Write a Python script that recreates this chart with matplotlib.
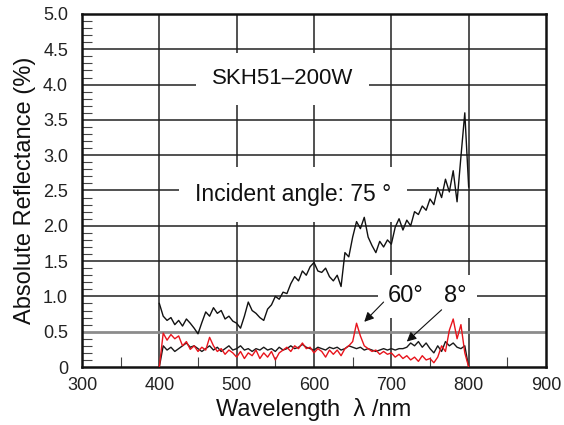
import matplotlib
matplotlib.use("Agg")
import matplotlib.pyplot as plt
from matplotlib.ticker import MultipleLocator

plt.rcParams['font.family'] = ['Liberation Sans', 'DejaVu Sans']

# ---------------- data ----------------
wavelength = [400, 405, 410, 415, 420, 425, 430, 435, 440, 445,
              450, 455, 460, 465, 470, 475, 480, 485, 490, 495,
              500, 505, 510, 515, 520, 525, 530, 535, 540, 545,
              550, 555, 560, 565, 570, 575, 580, 585, 590, 595,
              600, 605, 610, 615, 620, 625, 630, 635, 640, 645,
              650, 655, 660, 665, 670, 675, 680, 685, 690, 695,
              700, 705, 710, 715, 720, 725, 730, 735, 740, 745,
              750, 755, 760, 765, 770, 775, 780, 785, 790, 795, 800]

refl_75 = [0.90, 0.72, 0.66, 0.70, 0.60, 0.66, 0.58, 0.68, 0.62, 0.55,
           0.47, 0.63, 0.78, 0.72, 0.84, 0.76, 0.80, 0.68, 0.72, 0.65,
           0.62, 0.55, 0.72, 0.92, 0.80, 0.76, 0.70, 0.66, 0.82, 0.88,
           1.00, 0.96, 1.06, 1.04, 1.18, 1.28, 1.22, 1.36, 1.30, 1.42,
           1.48, 1.36, 1.34, 1.40, 1.28, 1.22, 1.30, 1.14, 1.62, 1.56,
           1.84, 2.06, 1.96, 2.12, 1.84, 1.72, 1.62, 1.78, 1.70, 1.80,
           1.74, 1.98, 2.10, 1.94, 2.08, 2.00, 2.20, 2.16, 2.28, 2.22,
           2.38, 2.30, 2.54, 2.40, 2.66, 2.48, 2.78, 2.34, 2.98, 3.60, 2.55]

refl_60 = [0.00, 0.48, 0.38, 0.46, 0.40, 0.44, 0.30, 0.36, 0.25, 0.30,
           0.22, 0.28, 0.24, 0.42, 0.30, 0.22, 0.26, 0.18, 0.24, 0.20,
           0.14, 0.22, 0.12, 0.20, 0.16, 0.24, 0.12, 0.20, 0.14, 0.22,
           0.10, 0.20, 0.24, 0.28, 0.22, 0.30, 0.26, 0.34, 0.26, 0.28,
           0.20, 0.26, 0.22, 0.14, 0.24, 0.18, 0.24, 0.16, 0.26, 0.30,
           0.36, 0.62, 0.44, 0.30, 0.26, 0.22, 0.24, 0.18, 0.22, 0.18,
           0.20, 0.14, 0.18, 0.12, 0.16, 0.10, 0.14, 0.08, 0.16, 0.10,
           0.12, 0.06, 0.14, 0.30, 0.22, 0.52, 0.68, 0.40, 0.60, 0.20, 0.00]

refl_8 = [0.00, 0.30, 0.24, 0.28, 0.22, 0.26, 0.30, 0.34, 0.28, 0.30,
          0.26, 0.22, 0.26, 0.30, 0.24, 0.28, 0.22, 0.26, 0.30, 0.24,
          0.26, 0.30, 0.24, 0.26, 0.22, 0.26, 0.24, 0.28, 0.24, 0.26,
          0.22, 0.28, 0.24, 0.26, 0.30, 0.26, 0.28, 0.32, 0.28, 0.26,
          0.24, 0.28, 0.26, 0.24, 0.28, 0.26, 0.28, 0.24, 0.26, 0.30,
          0.28, 0.26, 0.28, 0.24, 0.26, 0.24, 0.22, 0.24, 0.26, 0.24,
          0.26, 0.24, 0.26, 0.26, 0.28, 0.34, 0.30, 0.36, 0.28, 0.34,
          0.26, 0.20, 0.30, 0.22, 0.36, 0.30, 0.34, 0.28, 0.26, 0.30, 0.00]

x_ticks = [300, 400, 500, 600, 700, 800, 900]
y_ticks = [0, 0.5, 1.0, 1.5, 2.0, 2.5, 3.0, 3.5, 4.0, 4.5, 5.0]
y_tick_labels = ['0', '0.5', '1.0', '1.5', '2.0', '2.5', '3.0', '3.5', '4.0', '4.5', '5.0']

# ---------------- figure ----------------
fig = plt.figure(figsize=(5.64, 4.25), dpi=100)
ax = fig.add_axes([82 / 564, 1 - 367 / 425, 464 / 564, 353 / 425])

ax.set_xlim(300, 900)
ax.set_ylim(0, 5.0)
ax.set_xticks(x_ticks)
ax.set_yticks(y_ticks)
ax.set_yticklabels(y_tick_labels)
ax.xaxis.set_minor_locator(MultipleLocator(50))
ax.yaxis.set_minor_locator(MultipleLocator(0.1))

ax.tick_params(axis='both', which='major', direction='in', length=0,
               labelsize=13, colors='#222222')
ax.tick_params(axis='y', which='major', pad=10)
ax.tick_params(axis='x', which='major', pad=7)
ax.tick_params(axis='both', which='minor', direction='in', length=7,
               width=0.8, color='#444444')

for sp in ax.spines.values():
    sp.set_linewidth(1.8)
    sp.set_color('#111111')

# grid lines (0.5 line drawn gray & thicker as in reference)
for xv in x_ticks[1:-1]:
    ax.axvline(xv, color='#222222', lw=1.1, zorder=1)
for yv in y_ticks[1:-1]:
    if yv == 0.5:
        ax.axhline(yv, color='#8c8c8c', lw=2.0, zorder=1)
    else:
        ax.axhline(yv, color='#222222', lw=1.1, zorder=1)

# data
ax.plot(wavelength, refl_75, color='#111111', lw=1.0, zorder=5)
ax.plot(wavelength, refl_8, color='#1a1a1a', lw=1.0, zorder=5)
ax.plot(wavelength, refl_60, color='#e8141c', lw=1.0, zorder=6)

# text labels with white boxes interrupting the grid
box = dict(boxstyle='square,pad=0.7', fc='white', ec='none')
ax.text(559, 4.08, 'SKH51\u2013200W', fontsize=16, ha='center', va='center',
        bbox=box, zorder=3, color='#111111')
ax.text(573, 2.44, 'Incident angle: 75 \u00b0', fontsize=16.5, ha='center',
        va='center', bbox=box, zorder=3, color='#111111')
box2 = dict(boxstyle='square,pad=0.45', fc='white', ec='none')
ax.text(719, 1.0, '60\u00b0', fontsize=17, ha='center', va='center',
        bbox=box2, zorder=3, color='#111111')
ax.text(783, 1.0, '8\u00b0', fontsize=17, ha='center', va='center',
        bbox=box2, zorder=3, color='#111111')

arrow = dict(arrowstyle='-|>', color='#111111', lw=0.8,
             mutation_scale=14, shrinkA=0, shrinkB=0)
ax.annotate('', xy=(665, 0.64), xytext=(690, 0.92), arrowprops=arrow, zorder=7)
ax.annotate('', xy=(720, 0.36), xytext=(765, 0.81), arrowprops=arrow, zorder=7)

ax.set_xlabel('Wavelength  \u03bb /nm', fontsize=17, labelpad=3, color='#111111')
ax.set_ylabel('Absolute Reflectance (%)', fontsize=17, labelpad=5, color='#111111')

fig.savefig('out.png', dpi=100)
